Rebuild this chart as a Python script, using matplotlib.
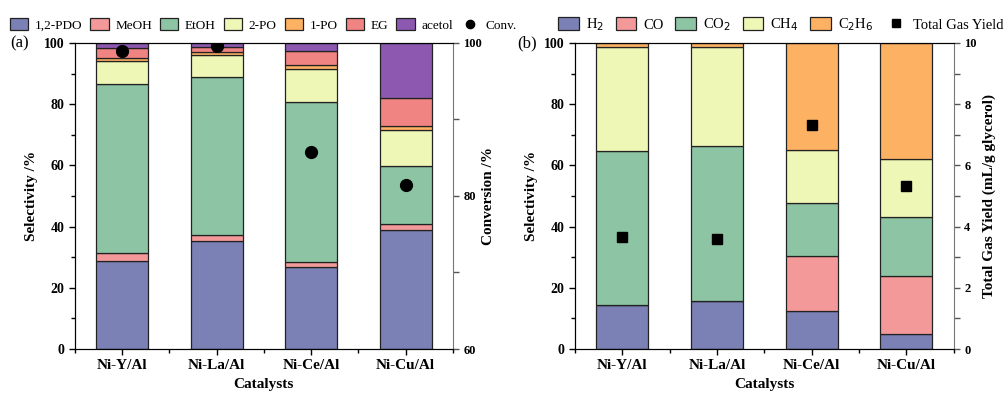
import numpy as np
import matplotlib as matplotlib
import matplotlib.pyplot as plt
from matplotlib.ticker import MultipleLocator

matplotlib.rcParams.update({'font.family': ['Liberation Serif', 'DejaVu Serif'], 'font.size': 10})

catalysts = ['Ni-Y/Al', 'Ni-La/Al', 'Ni-Ce/Al', 'Ni-Cu/Al']

# (a) liquid product selectivity, %
liq_names = ['1,2-PDO', 'MeOH', 'EtOH', '2-PO', '1-PO', 'EG', 'acetol']
pdo = [28.8, 35.2, 26.7, 38.9]
meoh = [2.5, 2.1, 1.8, 1.8]
etoh = [55.2, 51.5, 52.1, 19.2]
po2 = [7.6, 7.3, 10.8, 11.6]
po1 = [0.9, 0.8, 1.5, 1.5]
eg = [3.5, 1.7, 4.6, 9.0]
acetol = [1.5, 1.4, 2.5, 18.0]
conversion = [99.0, 99.6, 85.7, 81.4]

# (b) gas product selectivity, %
gas_names = ['H$_2$', 'CO', 'CO$_2$', 'CH$_4$', 'C$_2$H$_6$']
h2 = [14.5, 15.7, 12.5, 5.0]
co = [0.0, 0.0, 17.8, 18.9]
co2 = [50.3, 50.7, 17.4, 19.1]
ch4 = [33.8, 32.2, 17.3, 19.1]
c2h6 = [1.4, 1.4, 35.0, 37.9]
gas_yield = [3.67, 3.58, 7.33, 5.33]

col_liq = ['#7b80b5', '#f4999a', '#8dc4a3', '#eef7b6', '#fdb163', '#f08483', '#8c58b0']
col_gas = ['#7b80b5', '#f4999a', '#8dc4a3', '#eef7b6', '#fdb163']

fig = plt.figure(figsize=(10.05, 3.99), dpi=100)
ax1 = fig.add_axes([0.0746, 0.1253, 0.376, 0.767])
ax2 = fig.add_axes([0.572, 0.1253, 0.377, 0.767])
x = np.arange(len(catalysts))
w = 0.55

def stack(ax, series, colors, names):
    bottom = np.zeros(len(catalysts))
    handles = []
    for vals, c, n in zip(series, colors, names):
        b = ax.bar(x, vals, w, bottom=bottom, color=c, edgecolor='#222222', linewidth=0.9, label=n, zorder=2)
        handles.append(b)
        bottom += np.asarray(vals)
    return handles

def style(ax):
    ax.set_xlim(-0.5, 3.5)
    ax.set_ylim(0, 100)
    ax.set_xticks(x)
    ax.set_xticklabels(catalysts, fontweight='bold', fontsize=11)
    ax.xaxis.set_minor_locator(MultipleLocator(0.5))
    ax.yaxis.set_major_locator(MultipleLocator(20))
    ax.yaxis.set_minor_locator(MultipleLocator(10))
    ax.tick_params(which='both', direction='out', length=4, width=1)
    ax.tick_params(which='minor', length=3)
    for t in ax.get_yticklabels():
        t.set_fontweight('bold')
    ax.set_ylabel('Selectivity /%', fontweight='bold', fontsize=11)
    ax.set_xlabel('Catalysts', fontweight='bold', fontsize=11)
    ax.spines['right'].set_visible(False)

h1 = stack(ax1, [pdo, meoh, etoh, po2, po1, eg, acetol], col_liq, liq_names)
style(ax1)
ax1r = ax1.twinx()
ax1r.set_ylim(60, 100)
m1, = ax1r.plot(x, conversion, 'o', color='black', markersize=8.5, linestyle='none', label='Conv.', zorder=3)
ax1r.yaxis.set_major_locator(MultipleLocator(20))
ax1r.yaxis.set_minor_locator(MultipleLocator(10))
ax1r.tick_params(which='both', direction='out', length=4, width=1, labelsize=9, color='#555555')
ax1r.spines['right'].set_color('#777777')
for t in ax1r.get_yticklabels():
    t.set_fontweight('bold')
ax1r.set_ylabel('Conversion /%', fontweight='bold', fontsize=11, labelpad=0)
fig.legend(h1 + [m1], liq_names + ['Conv.'], ncol=8, loc='center', bbox_to_anchor=(0.262, 0.937),
           frameon=False, fontsize=9.5, handlelength=1.4, handleheight=1.0, columnspacing=0.6, handletextpad=0.5,
           markerscale=0.7)
fig.text(0.01, 0.892, '(a)', fontsize=12, va='center', ha='left')

h2h = stack(ax2, [h2, co, co2, ch4, c2h6], col_gas, gas_names)
style(ax2)
ax2r = ax2.twinx()
ax2r.set_ylim(0, 10)
m2, = ax2r.plot(x, gas_yield, 's', color='black', markersize=7, linestyle='none', label='Total Gas Yield', zorder=3)
ax2r.yaxis.set_major_locator(MultipleLocator(2))
ax2r.yaxis.set_minor_locator(MultipleLocator(1))
ax2r.tick_params(which='both', direction='out', length=4, width=1, labelsize=9, color='#555555')
ax2r.spines['right'].set_color('#777777')
for t in ax2r.get_yticklabels():
    t.set_fontweight('bold')
ax2r.set_ylabel('Total Gas Yield (mL/g glycerol)', fontweight='bold', fontsize=11)
fig.legend(h2h + [m2], gas_names + ['Total Gas Yield'], ncol=6, loc='center', bbox_to_anchor=(0.777, 0.937),
           frameon=False, fontsize=10.5, handlelength=1.4, handleheight=1.0, columnspacing=0.8, handletextpad=0.5,
           markerscale=0.8)
fig.text(0.515, 0.892, '(b)', fontsize=12, va='center', ha='left')

plt.savefig('out.png', dpi=100)
